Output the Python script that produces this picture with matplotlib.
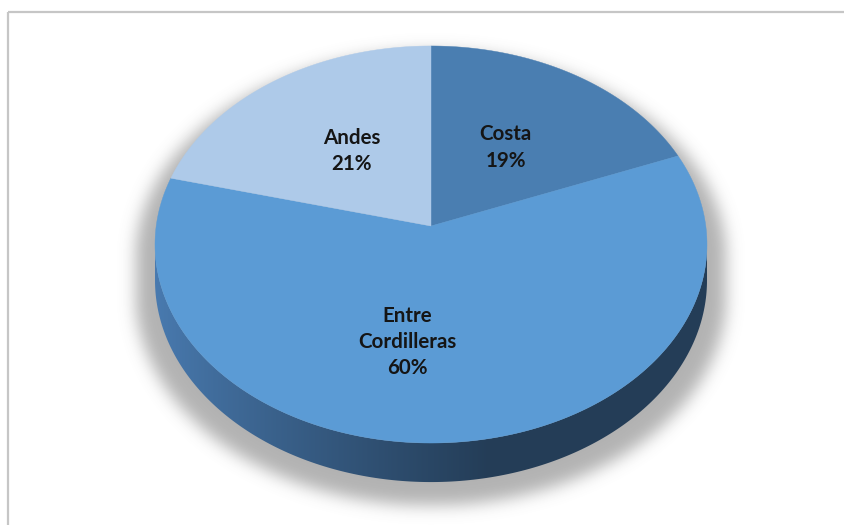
import numpy as np
import matplotlib
matplotlib.use("Agg")
import matplotlib.pyplot as plt
from matplotlib.patches import Polygon
from matplotlib.path import Path

# Regional share
regions = ["Costa", "Entre\nCordilleras", "Andes"]
shares = [19, 60, 21]
top_colors = ["#4a7eb1", "#5b9bd5", "#aecae9"]

W, H = 844, 525
fig = plt.figure(figsize=(W / 100, H / 100), dpi=100)
ax = fig.add_axes([0, 0, 1, 1])
ax.set_xlim(0, W)
ax.set_ylim(H, 0)
ax.axis("off")

# Perspective projection of the pie plane (pixel space)
cx, cy = 431.0, 226.0
sx, sy = 274.8, 196.8
k = 0.0932
depth = 35.4


def proj(X, Y, Z=0.0):
    den = 1.0 + k * Y
    return cx + sx * X / den, cy - (sy * Y - depth * Z) / den


def arc(t0, t1, Z=0.0, n=200):
    t = np.radians(np.linspace(t0, t1, n))
    x, y = proj(np.cos(t), np.sin(t), Z)
    return np.column_stack([x, y])


# Front side of the cylinder, between the two silhouette tangents
t_left = 180 + np.degrees(np.arcsin(k))
t_right = 360 - np.degrees(np.arcsin(k))
side_pts = np.vstack([arc(t_left, t_right, 0.0), arc(t_right, t_left, 1.0)])
outline = np.vstack([arc(t_right - 360, t_left, 0.0), arc(t_left, t_right, 1.0)])

# Soft drop shadow under the pie
ox, oy = 431.0, 46.0
sh = outline.copy()
sh[:, 0] = ox + (sh[:, 0] - ox) * 1.07
sh[:, 1] = oy + (sh[:, 1] - oy) * 1.04 + 6
gx, gy = np.meshgrid(np.arange(W) + 0.5, np.arange(H) + 0.5)
mask = Path(sh).contains_points(np.column_stack([gx.ravel(), gy.ravel()]))
mask = mask.reshape(H, W).astype(float)
sig = 8.0
kx = np.arange(-30, 31)
ker = np.exp(-kx ** 2 / (2 * sig ** 2))
ker /= ker.sum()
blur = np.apply_along_axis(lambda m: np.convolve(m, ker, mode="same"), 1, mask)
blur = np.apply_along_axis(lambda m: np.convolve(m, ker, mode="same"), 0, blur)
shadow = np.zeros((H, W, 4))
shadow[..., :3] = 0.40
shadow[..., 3] = blur * 0.5
ax.imshow(shadow, extent=[0, W, H, 0], zorder=1, interpolation="bilinear")

# Side wall with left-to-right shading
side_patch = Polygon(side_pts, closed=True, facecolor="none", edgecolor="none")
ax.add_patch(side_patch)
light = np.array([74, 124, 178]) / 255
dark = np.array([36, 61, 87]) / 255
tx = np.clip((np.arange(W) - 150) / 340.0, 0, 1) ** 0.85
grad = light[None, :] * (1 - tx[:, None]) + dark[None, :] * tx[:, None]
grad_img = np.repeat(grad[None, :, :], H, axis=0)
im = ax.imshow(grad_img, extent=[0, W, H, 0], zorder=2, interpolation="bilinear")
im.set_clip_path(side_patch)

# Top face slices, clockwise from 12 o'clock
fracs = np.array(shares) / sum(shares)
start = 90.0
label_nudge = {"Entre\nCordilleras": (-34, 0), "Andes": (2, 0)}
for name, f, col, val in zip(regions, fracs, top_colors, shares):
    end = start - 360 * f
    pts = np.vstack([[proj(0, 0)], arc(start, end)])
    ax.add_patch(Polygon(pts, closed=True, facecolor=col, edgecolor=col,
                         lw=0.3, zorder=3))
    mid = np.radians((start + end) / 2)
    r = 0.56 if f > 0.5 else 0.502
    lx, ly = proj(r * np.cos(mid), r * np.sin(mid))
    dx, dy = label_nudge.get(name, (0, 0))
    ax.text(lx + dx, ly + dy, f"{name}\n{val}%", ha="center", va="center",
            fontsize=14.8, fontweight="bold", family="Lato", color="#151515",
            linespacing=1.4, zorder=5)
    start = end

# Chart area frame
ax.plot([7.5, 7.5], [H, 11.5], color="#c6c6c6", lw=1.6, solid_capstyle="butt")
ax.plot([7.5, W], [11.5, 11.5], color="#c6c6c6", lw=1.6, solid_capstyle="butt")

fig.savefig("out.png", dpi=100)
